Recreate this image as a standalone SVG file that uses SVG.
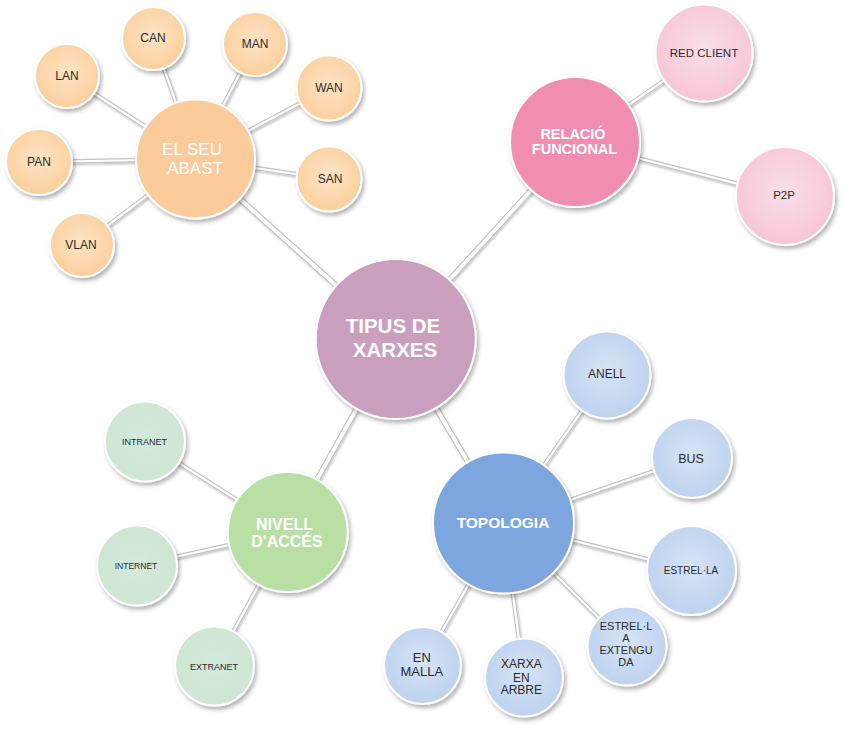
<svg xmlns="http://www.w3.org/2000/svg" width="847" height="729" viewBox="0 0 847 729">
<defs>
<filter id="sh" x="-30%" y="-30%" width="160%" height="160%">
<feDropShadow dx="2" dy="3" stdDeviation="2.2" flood-color="#000" flood-opacity="0.3"/>
</filter>
<filter id="lsh" x="-10%" y="-10%" width="120%" height="120%">
<feDropShadow dx="1" dy="1.5" stdDeviation="1" flood-color="#000" flood-opacity="0.25"/>
</filter>
<radialGradient id="gO" cx="50%" cy="45%" r="55%"><stop offset="0" stop-color="#FDE4C6"/><stop offset="1" stop-color="#FCCF9D"/></radialGradient>
<radialGradient id="gP" cx="50%" cy="45%" r="55%"><stop offset="0" stop-color="#FADFE8"/><stop offset="1" stop-color="#F7C5D6"/></radialGradient>
<radialGradient id="gB" cx="50%" cy="45%" r="55%"><stop offset="0" stop-color="#D6E3F5"/><stop offset="1" stop-color="#BED2EF"/></radialGradient>
<radialGradient id="gG" cx="50%" cy="50%" r="55%"><stop offset="0" stop-color="#D2E9DC"/><stop offset="1" stop-color="#CFE6D4"/></radialGradient>
<style>
.n{stroke:#fff;stroke-width:2;filter:url(#sh)}
.lo{stroke:#c4c4c4;stroke-width:4.5;fill:none}
.li{stroke:#fff;stroke-width:2.2;fill:none}
.mo{stroke:#c0c0c0;stroke-width:6;fill:none}
.mi{stroke:#fff;stroke-width:3.8;fill:none}
.t{font-family:"Liberation Sans",Arial,sans-serif;fill:#2b2b2b;text-anchor:middle}
.w{font-family:"Liberation Sans",Arial,sans-serif;fill:#fff;text-anchor:middle;font-weight:bold}
</style>
</defs>
<rect width="847" height="729" fill="#fff"/>
<g id="connectors" filter="url(#lsh)">
<path class="mo" d="M195.5,159L395.7,339M575,142L395.7,339M503.5,523L395.7,339M287.7,532L395.7,339"/>
<path class="mi" d="M195.5,159L395.7,339M575,142L395.7,339M503.5,523L395.7,339M287.7,532L395.7,339"/>
<path class="lo" d="M195.5,159L153.5,38.5M195.5,159L255,44M195.5,159L67,76M195.5,159L329,88M195.5,159L39,162M195.5,159L329,179M195.5,159L82,245M575,142L704,53M575,142L785,196M503.5,523L607,375M503.5,523L692,458M503.5,523L691.5,570.5M503.5,523L627,646M503.5,523L422.5,665.5M503.5,523L524,677.5M287.7,532L145,441.5M287.7,532L137,565.5M287.7,532L214.5,666"/>
<path class="li" d="M195.5,159L153.5,38.5M195.5,159L255,44M195.5,159L67,76M195.5,159L329,88M195.5,159L39,162M195.5,159L329,179M195.5,159L82,245M575,142L704,53M575,142L785,196M503.5,523L607,375M503.5,523L692,458M503.5,523L691.5,570.5M503.5,523L627,646M503.5,523L422.5,665.5M503.5,523L524,677.5M287.7,532L145,441.5M287.7,532L137,565.5M287.7,532L214.5,666"/>
</g>
<g id="n-tipus"><circle class="n" cx="395.7" cy="339" r="80" fill="#CA9FBD"/><text class="w" font-size="20.5" x="393" y="333">TIPUS DE</text><text class="w" font-size="20.5" x="395" y="357">XARXES</text></g>
<g id="n-abast"><circle class="n" cx="195.5" cy="159" r="59.5" fill="#FBCB9B"/><text class="w" font-weight="normal" font-size="17" style="font-weight:normal" x="192" y="155">EL SEU</text><text class="w" font-size="17" style="font-weight:normal" x="195" y="174">ABAST</text></g>
<g id="n-can"><circle class="n" cx="153.5" cy="38.5" r="31.5" fill="url(#gO)"/><text class="t" font-size="12" x="153" y="42">CAN</text></g>
<g id="n-man"><circle class="n" cx="255" cy="44" r="32" fill="url(#gO)"/><text class="t" font-size="12" x="255" y="47.5">MAN</text></g>
<g id="n-lan"><circle class="n" cx="67" cy="76" r="32" fill="url(#gO)"/><text class="t" font-size="12" x="67" y="79.5">LAN</text></g>
<g id="n-wan"><circle class="n" cx="329" cy="88" r="32.5" fill="url(#gO)"/><text class="t" font-size="12" x="329" y="91.5">WAN</text></g>
<g id="n-pan"><circle class="n" cx="39" cy="162" r="33" fill="url(#gO)"/><text class="t" font-size="12" x="39" y="166">PAN</text></g>
<g id="n-san"><circle class="n" cx="329" cy="179" r="32.5" fill="url(#gO)"/><text class="t" font-size="12" x="330" y="183">SAN</text></g>
<g id="n-vlan"><circle class="n" cx="82" cy="245" r="32" fill="url(#gO)"/><text class="t" font-size="12" x="81" y="248.5">VLAN</text></g>
<g id="n-relacio"><circle class="n" cx="575" cy="142" r="65" fill="#F28DB2"/><text class="w" font-size="14.5" x="573" y="139">RELACIÓ</text><text class="w" font-size="14.5" x="574.5" y="154">FUNCIONAL</text></g>
<g id="n-redclient"><circle class="n" cx="704" cy="53" r="48.5" fill="url(#gP)"/><text class="t" font-size="11.5" x="704" y="57">RED CLIENT</text></g>
<g id="n-p2p"><circle class="n" cx="785" cy="196" r="49" fill="url(#gP)"/><text class="t" font-size="11.5" x="784" y="199">P2P</text></g>
<g id="n-topologia"><circle class="n" cx="503.5" cy="523" r="70.5" fill="#7EA6DE"/><text class="w" font-size="15.5" x="503" y="528">TOPOLOGIA</text></g>
<g id="n-anell"><circle class="n" cx="607" cy="375" r="43.5" fill="url(#gB)"/><text class="t" font-size="12" x="607" y="378">ANELL</text></g>
<g id="n-bus"><circle class="n" cx="692" cy="458" r="40" fill="url(#gB)"/><text class="t" font-size="12.5" x="691" y="463">BUS</text></g>
<g id="n-estrella"><circle class="n" cx="691.5" cy="570.5" r="44.5" fill="url(#gB)"/><text class="t" font-size="10" x="691" y="574">ESTREL·LA</text></g>
<g id="n-estext"><circle class="n" cx="627" cy="646" r="39.5" fill="url(#gB)"/><text class="t" font-size="11" x="626" y="630">ESTREL·L</text><text class="t" font-size="11" x="626" y="642">A</text><text class="t" font-size="11" x="626" y="654.3">EXTENGU</text><text class="t" font-size="11" x="626" y="666">DA</text></g>
<g id="n-malla"><circle class="n" cx="422.5" cy="665.5" r="38.5" fill="url(#gB)"/><text class="t" font-size="13" x="421.8" y="661.7">EN</text><text class="t" font-size="13" x="421.8" y="675.7">MALLA</text></g>
<g id="n-arbre"><circle class="n" cx="524" cy="677.5" r="39" fill="url(#gB)"/><text class="t" font-size="12" x="521.3" y="668">XARXA</text><text class="t" font-size="12" x="521.3" y="681.5">EN</text><text class="t" font-size="12" x="521.3" y="694.3">ARBRE</text></g>
<g id="n-nivell"><circle class="n" cx="287.7" cy="532" r="60" fill="#B9DFA5"/><text class="w" font-size="16" x="284.5" y="530">NIVELL</text><text class="w" font-size="16" x="287" y="546.7">D'ACCÉS</text></g>
<g id="n-intranet"><circle class="n" cx="145" cy="441.5" r="40" fill="url(#gG)"/><text class="t" font-size="9" x="144.5" y="445">INTRANET</text></g>
<g id="n-internet"><circle class="n" cx="137" cy="565.5" r="40" fill="url(#gG)"/><text class="t" font-size="8.5" x="136" y="569">INTERNET</text></g>
<g id="n-extranet"><circle class="n" cx="214.5" cy="666" r="39.5" fill="url(#gG)"/><text class="t" font-size="9" x="214" y="670">EXTRANET</text></g>
</svg>
